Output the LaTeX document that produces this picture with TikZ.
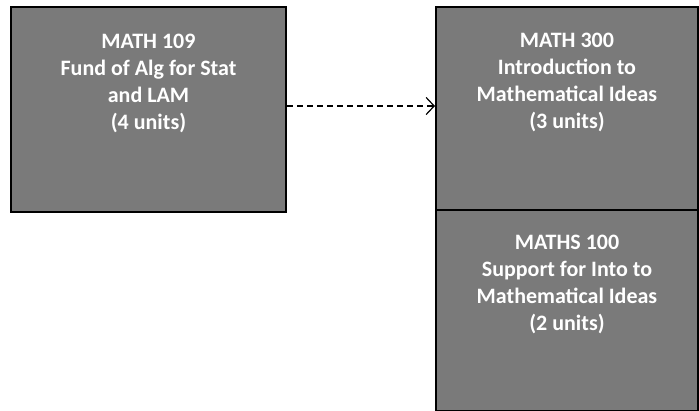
\documentclass[tikz,border=0pt]{standalone}
\usepackage{fontspec}
\setmainfont{Carlito}
\usetikzlibrary{arrows.meta,positioning}

\begin{document}
\begin{tikzpicture}[x=1pt,y=-1pt,
        course/.style={shape=rectangle,draw=black,line width=2pt,fill=black!52,
            text=white,font=\bfseries\fontsize{22}{27}\selectfont,align=center,
            inner sep=0pt,text depth=55pt}]
        \useasboundingbox (0,0) rectangle (699,410);
        \node (m109) at (148.5,109.5) [course,minimum width=275pt,minimum height=205pt] {MATH 109\\Fund of Alg for Stat\\and LAM\\(4 units)};
        \node (m300) at (567,108.5) [course,minimum width=262pt,minimum height=203pt] {MATH 300\\Introduction to\\Mathematical Ideas\\(3 units)};
        \node (s100) [course,below=-2pt of m300,minimum width=262pt,minimum height=201pt] {MATHS 100\\Support for Into to\\Mathematical Ideas\\(2 units)};

        \draw[dash pattern=on 6pt off 4pt,line width=1.2pt,-{Straight Barb[length=8pt,width=17pt,line width=1.2pt]}] (m109.east |- 0,106) -- (m300.west |- 0,106);
    \end{tikzpicture}
\end{document}
